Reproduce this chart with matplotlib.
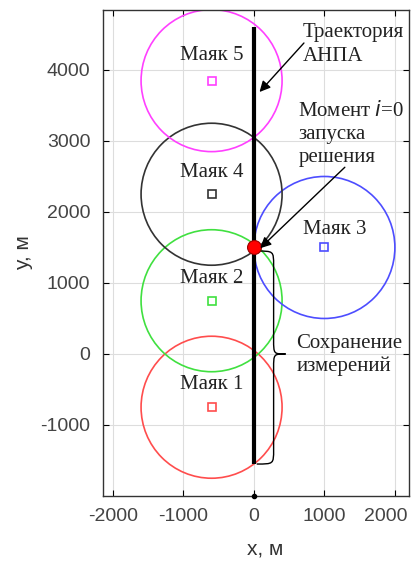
import numpy as np
import matplotlib.pyplot as plt
from matplotlib.patches import Circle, PathPatch
from matplotlib.path import Path
from matplotlib.transforms import ScaledTranslation

plt.rcParams['axes.unicode_minus'] = False

# Beacons
beacon_names = ['Маяк 1', 'Маяк 2', 'Маяк 3', 'Маяк 4', 'Маяк 5']
beacon_x = [-600, -600, 1000, -600, -600]
beacon_y = [-750, 750, 1500, 2250, 3850]
beacon_r = [1000, 1000, 1000, 1000, 1000]
beacon_colors = ['#ff4d4d', '#40e040', '#4d4dff', '#333333', '#ff40ff']
label_x = [-600, -600, 1150, -600, -600]
label_y = [-430, 1070, 1750, 2550, 4210]

# Trajectory of the AUV
traj_x = [0, 0]
traj_y = [-1550, 4600]
start_x, start_y = 0, 1500

# Brace range (stored measurements)
brace_top, brace_mid, brace_bot = 1450, 0, -1550

xticks = [-2000, -1000, 0, 1000, 2000]
yticks = [-1000, 0, 1000, 2000, 3000, 4000]

serif = 'Liberation Serif'
sans = 'Liberation Sans'
tick_color = '#444444'
text_color = '#222222'

fig = plt.figure(figsize=(4.11, 5.64), dpi=100)
ax = fig.add_axes([0.2506, 0.1206, 0.7445, 0.8617])

for i in range(len(beacon_names)):
    ax.add_patch(Circle((beacon_x[i], beacon_y[i]), beacon_r[i], fill=False,
                        ec=beacon_colors[i], lw=1.2, zorder=2))
    ax.plot(beacon_x[i], beacon_y[i], marker='s', ms=6, mfc='none',
            mec=beacon_colors[i], mew=1.2, zorder=3)
    ax.text(label_x[i], label_y[i], beacon_names[i], family=serif, fontsize=15,
            ha='center', va='center', color=text_color, zorder=5)

ax.plot(traj_x, traj_y, color='k', lw=3, zorder=4, solid_capstyle='butt')
ax.plot(start_x, start_y, 'o', ms=10, mfc='red', mec='#990000', mew=0.8, zorder=6)
ax.plot(0, -2000, 'o', ms=3, color='k', zorder=6, clip_on=False)

# curly brace
def brace(x0, x1, xt, yt, ym, yb, r):
    verts = [(x0, yt), (x1, yt), (x1, yt), (x1, yt - r),
             (x1, ym + r),
             (x1, ym), (x1, ym), (xt, ym),
             (x1, ym), (x1, ym), (x1, ym - r),
             (x1, yb + r),
             (x1, yb), (x1, yb), (x0, yb)]
    codes = [Path.MOVETO, Path.CURVE4, Path.CURVE4, Path.CURVE4,
             Path.LINETO,
             Path.CURVE4, Path.CURVE4, Path.CURVE4,
             Path.CURVE4, Path.CURVE4, Path.CURVE4,
             Path.LINETO,
             Path.CURVE4, Path.CURVE4, Path.CURVE4]
    return PathPatch(Path(verts, codes), fill=False, lw=1.0, ec='k', zorder=5)

ax.add_patch(brace(40, 280, 450, brace_top, brace_mid, brace_bot, 200))

arrow = dict(arrowstyle='-|>', color='k', lw=1.0, mutation_scale=16, shrinkA=0, shrinkB=0)
ax.annotate('', xy=(80, 3690), xytext=(710, 4380), arrowprops=arrow, zorder=7)
ax.annotate('', xy=(90, 1490), xytext=(1290, 2630), arrowprops=arrow, zorder=7)

ax.text(690, 4360, 'Траектория\nАНПА', family=serif, fontsize=15, ha='left', va='center',
        linespacing=1.3, color=text_color, zorder=8)
ax.text(630, 3100, 'Момент $\\it{i}$=0\nзапуска\nрешения', family=serif, fontsize=15,
        ha='left', va='center', linespacing=1.3, color=text_color, zorder=8)
ax.text(600, -20, 'Сохранение\nизмерений', family=serif, fontsize=15, ha='left', va='center',
        linespacing=1.25, color=text_color, zorder=8)

ax.set_xlim(-2140, 2200)
ax.set_ylim(-2000, 4845)
ax.set_xticks(xticks)
ax.set_yticks(yticks)
ax.grid(True, color='#dddddd', lw=0.8)
ax.set_axisbelow(True)
ax.tick_params(direction='in', top=True, right=True, length=4, labelsize=14,
               labelcolor=tick_color, pad=9)
for lbl in ax.get_xticklabels() + ax.get_yticklabels():
    lbl.set_family(sans)
for s in ax.spines.values():
    s.set_linewidth(1.0)
    s.set_color('#333333')

# last x tick label pulled inside the figure edge
last = ax.xaxis.get_major_ticks()[-1].label1
last.set_transform(last.get_transform() + ScaledTranslation(-9 / 100, 0, fig.dpi_scale_trans))

ax.set_xlabel('x, м', family=sans, fontsize=15, color='#333333')
ax.set_ylabel('y, м', family=sans, fontsize=15, color='#333333')
ax.xaxis.set_label_coords(0.53, -0.09)
ax.yaxis.set_label_coords(-0.23, 0.5)

fig.savefig('out.png', dpi=100)
